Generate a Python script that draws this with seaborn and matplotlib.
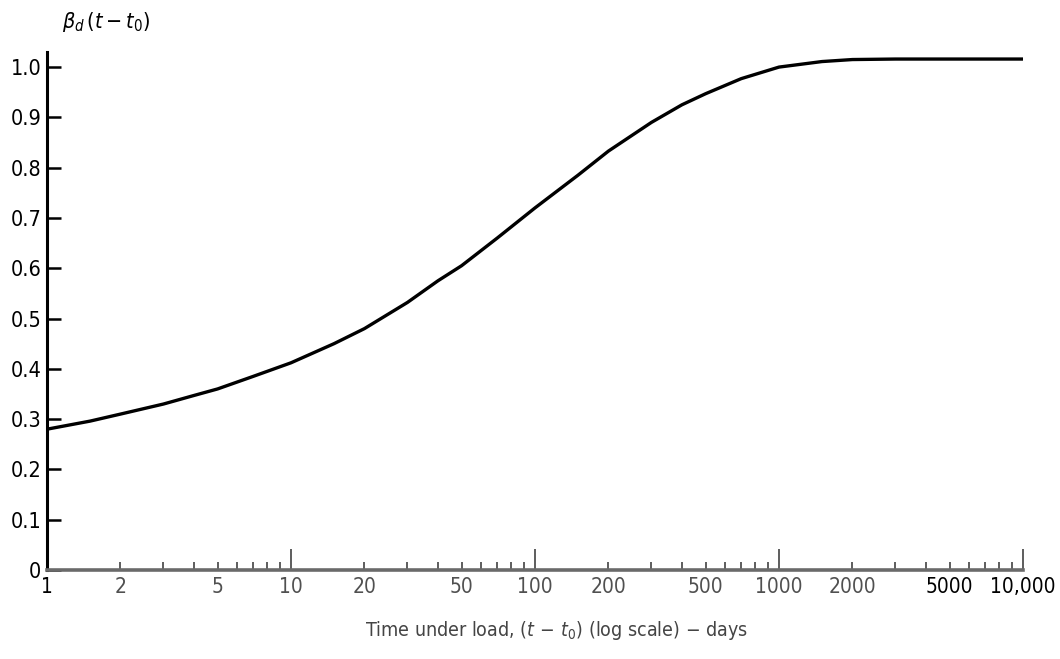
import matplotlib
matplotlib.use("Agg")
import matplotlib.pyplot as plt
import matplotlib.ticker as mticker
import seaborn as sns
import pandas as pd

# ---- data ----
time_days = [1, 1.5, 2, 3, 4, 5, 7, 10, 15, 20, 30, 40, 50, 70, 100, 150, 200,
             300, 400, 500, 700, 1000, 1500, 2000, 3000, 5000, 10000]
beta_d = [0.280, 0.296, 0.310, 0.330, 0.347, 0.360, 0.385, 0.412, 0.450, 0.480,
          0.532, 0.575, 0.605, 0.660, 0.720, 0.785, 0.833, 0.890, 0.925, 0.947,
          0.977, 1.000, 1.011, 1.015, 1.016, 1.016, 1.016]

x_tick_values = [1, 2, 5, 10, 20, 50, 100, 200, 500, 1000, 2000, 5000, 10000]
x_tick_labels = ["1", "2", "5", "10", "20", "50", "100", "200", "500", "1000",
                 "2000", "5000", "10,000"]
y_tick_values = [0, 0.1, 0.2, 0.3, 0.4, 0.5, 0.6, 0.7, 0.8, 0.9, 1.0]
y_tick_labels = ["0", "0.1", "0.2", "0.3", "0.4", "0.5", "0.6", "0.7", "0.8", "0.9", "1.0"]

df = pd.DataFrame({"t": time_days, "beta": beta_d})

sns.set_theme(style="ticks")
plt.rcParams["font.family"] = ["DejaVu Sans"]
plt.rcParams["font.stretch"] = "condensed"
plt.rcParams["mathtext.fontset"] = "dejavusans"

fig = plt.figure(figsize=(10.6, 6.59), dpi=100)
ax = fig.add_axes([47 / 1060, 89 / 659, (1023 - 47) / 1060, (570 - 52) / 659])

sns.lineplot(data=df, x="t", y="beta", color="black", linewidth=2.4, ax=ax)

ax.set_xscale("log")
ax.set_xlim(1, 10000)
ax.set_ylim(0, 1.03)

for s in ["top", "right"]:
    ax.spines[s].set_visible(False)
ax.spines["left"].set_linewidth(2.2)
ax.spines["left"].set_color("black")
ax.spines["bottom"].set_linewidth(2.6)
ax.spines["bottom"].set_color("#6a6a6a")

# y ticks
ax.set_yticks(y_tick_values)
ax.set_yticklabels(y_tick_labels)
ax.tick_params(axis="y", direction="in", length=10, width=1.8, pad=4,
               labelsize=15.5, colors="black")

# x ticks
ax.xaxis.set_major_locator(mticker.FixedLocator(x_tick_values))
ax.set_xticklabels(x_tick_labels)
minor_vals = [m * 10 ** k for k in range(0, 4) for m in range(2, 10)]
minor_vals = [v for v in minor_vals if v not in x_tick_values]
ax.xaxis.set_minor_locator(mticker.FixedLocator(minor_vals))
ax.xaxis.set_minor_formatter(mticker.NullFormatter())
ax.tick_params(axis="x", which="major", direction="in", length=6, width=1.3,
               pad=5, labelsize=15, colors="#505050")
ax.tick_params(axis="x", which="minor", direction="in", length=6, width=1.3,
               colors="#505050")
for val, tick in zip(x_tick_values, ax.xaxis.get_major_ticks()):
    if val in (10, 100, 1000, 10000):
        tick.tick1line.set_markersize(15)
    if val in (1, 5000, 10000):
        tick.tick1line.set_color("black")
for val, lab in zip(x_tick_values, ax.get_xticklabels()):
    if val in (1, 5000, 10000):
        lab.set_color("black")

ax.set_xlabel(r"Time under load, $(t\,-\,t_0)$ (log scale) $-$ days",
              fontsize=14, color="#444444")
ax.xaxis.set_label_coords(0.522, -0.095)
ax.set_ylabel("")

fig.text(62 / 1060, 1 - 22 / 659, r"$\beta_d\,(t-t_0)$", fontsize=15.5,
         ha="left", va="center", color="black")

fig.savefig("out.png", dpi=100, facecolor="white")
